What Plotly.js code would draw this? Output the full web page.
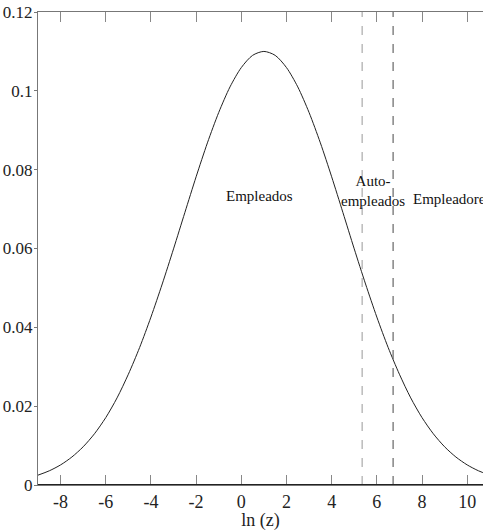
<!DOCTYPE html>
<html>
<head>
<meta charset="utf-8">
<script src="https://cdn.plot.ly/plotly-3.0.1.min.js"></script>
<style>html,body{margin:0;padding:0;background:#fff;}#chart{width:483px;height:531px;}</style>
</head>
<body>
<div id="chart"></div>
<script>
// Values
const lnZ = [-9, -8.5, -8, -7.5, -7, -6.5, -6, -5.5, -5, -4.5, -4, -3.5, -3, -2.5, -2, -1.5, -1, -0.5, 0, 0.5, 1,
             1.5, 2, 2.5, 3, 3.5, 4, 4.5, 5, 5.5, 6, 6.5, 7, 7.5, 8, 8.5, 9, 9.5, 10, 10.5, 11];
const density = [0.0025, 0.0036, 0.0051, 0.0071, 0.0097, 0.0130, 0.0171, 0.0221, 0.0281, 0.0349, 0.0426,
                 0.0510, 0.0599, 0.0691, 0.0782, 0.0868, 0.0945, 0.1010, 0.1059, 0.1090, 0.1100,
                 0.1090, 0.1059, 0.1010, 0.0945, 0.0868, 0.0782, 0.0691, 0.0599, 0.0510, 0.0426,
                 0.0349, 0.0281, 0.0221, 0.0171, 0.0130, 0.0097, 0.0071, 0.0051, 0.0036, 0.0025];
const thresholds = [5.35, 6.72];
const thresholdColors = ['#aaaaaa', '#666666'];
const regionLabels = ['Empleados', 'Auto-<br>empleados', 'Empleadores'];
const regionX = [0.8, 5.85, 9.32];
const regionY = [0.0732, 0.0745, 0.0725];
const xTicks = [-8, -6, -4, -2, 0, 2, 4, 6, 8, 10];
const yTicks = [0, 0.02, 0.04, 0.06, 0.08, 0.1, 0.12];

const font = {family: 'Liberation Serif', size: 18, color: '#222'};
const yFont = {family: 'Liberation Serif', size: 17, color: '#222'};

const traces = [{
  x: lnZ, y: density, type: 'scatter', mode: 'lines',
  line: {color: '#222', width: 1, shape: 'spline', smoothing: 0.8},
  hoverinfo: 'skip', showlegend: false
}];

const shapes = thresholds.map((t, i) => ({
  type: 'line', xref: 'x', yref: 'paper', x0: t, x1: t, y0: 0, y1: 1,
  line: {color: thresholdColors[i], width: 1.2, dash: 'dash'}
}));
shapes.push({type: 'line', xref: 'paper', yref: 'y', x0: 0, x1: 1, y0: 0, y1: 0,
  line: {color: '#222', width: 2}});

const annotations = regionLabels.map((t, i) => ({
  x: regionX[i], y: regionY[i], xref: 'x', yref: 'y', text: t, showarrow: false,
  font: {family: 'Liberation Serif', size: 15, color: '#111'}, align: 'center'
}));

const layout = {
  width: 483, height: 531,
  margin: {l: 38, r: 0, t: 12, b: 46},
  paper_bgcolor: '#fff', plot_bgcolor: '#fff',
  font: font,
  showlegend: false,
  xaxis: {
    range: [-9, 10.7], tickvals: xTicks, ticktext: xTicks.map(String),
    ticks: 'inside', ticklen: 10, tickcolor: '#888', tickwidth: 1,
    showline: true, linecolor: '#777', linewidth: 1, mirror: 'ticks',
    showgrid: false, zeroline: false,
    tickfont: font,
    title: {text: 'ln (z)', font: font, standoff: 0}
  },
  yaxis: {
    range: [0, 0.12], tickvals: yTicks, ticktext: yTicks.map(String),
    ticks: 'outside', ticklen: 3, tickcolor: '#777',
    ticklabelstandoff: -2,
    showline: true, linecolor: '#777', linewidth: 1,
    showgrid: false, zeroline: false,
    tickfont: yFont
  },
  shapes: shapes,
  annotations: annotations
};

Plotly.newPlot('chart', traces, layout, {displayModeBar: false, staticPlot: true});
</script>
</body>
</html>
